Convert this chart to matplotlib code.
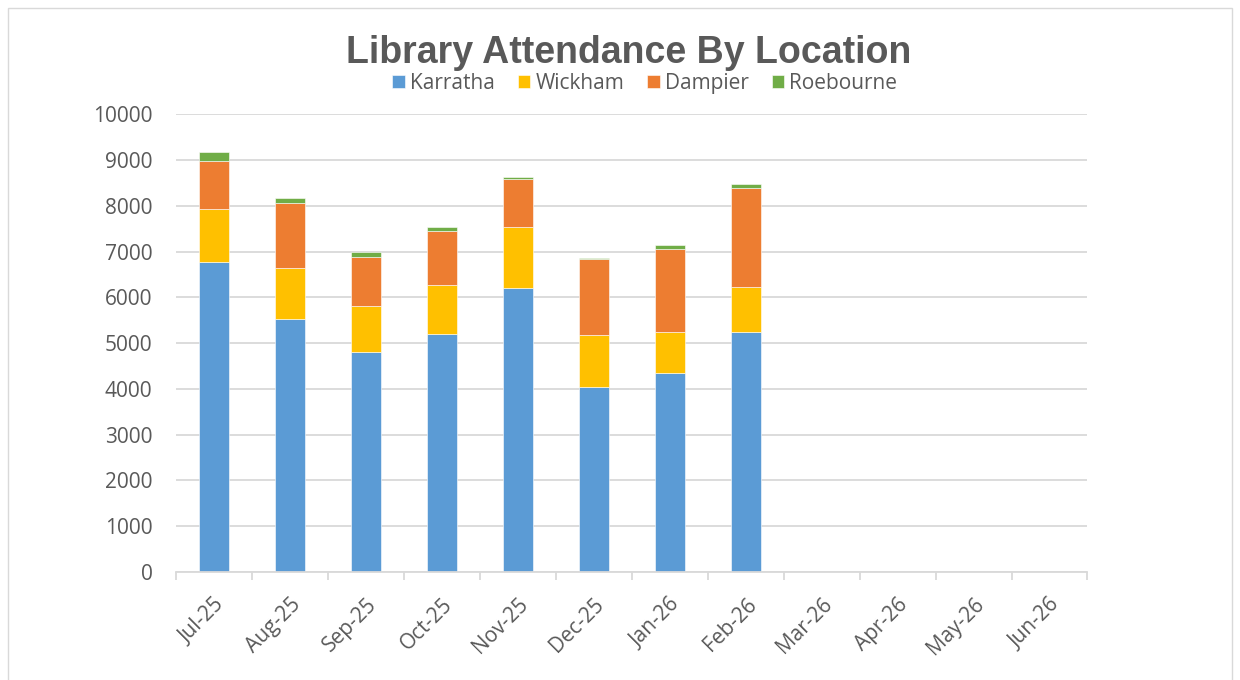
import matplotlib.pyplot as plt
import numpy as np
from matplotlib.patches import Rectangle

months = ["Jul-25", "Aug-25", "Sep-25", "Oct-25", "Nov-25", "Dec-25",
          "Jan-26", "Feb-26", "Mar-26", "Apr-26", "May-26", "Jun-26"]
karratha = [6766, 5532, 4797, 5190, 6206, 4036, 4342, 5234, 0, 0, 0, 0]
wickham = [1162, 1118, 1019, 1081, 1334, 1132, 892, 1000, 0, 0, 0, 0]
dampier = [1057, 1403, 1074, 1173, 1035, 1664, 1832, 2153, 0, 0, 0, 0]
roebourne = [197, 115, 110, 88, 44, 37, 87, 79, 0, 0, 0, 0]

series = [("Karratha", karratha, "#5b9bd5"),
          ("Wickham", wickham, "#ffc000"),
          ("Dampier", dampier, "#ed7d31"),
          ("Roebourne", roebourne, "#70ad47")]

plt.rcParams['font.family'] = ['Open Sans', 'DejaVu Sans']
text_col = "#595959"

fig = plt.figure(figsize=(12.4, 6.8), dpi=100)
ax = fig.add_axes([0.142, 0.159, 0.735, 0.673])

x = np.arange(len(months))
bottom = np.zeros(len(months))
for name, vals, col in series:
    vals = np.array(vals, dtype=float)
    ax.bar(x, vals, 0.4, bottom=bottom, color=col, label=name,
           edgecolor="white", linewidth=0.4, zorder=3)
    bottom += vals

ax.set_xlim(-0.5, len(months) - 0.5)
ax.set_ylim(0, 10000)
ax.set_yticks(np.arange(0, 10001, 1000))
ax.yaxis.grid(True, color="#d9d9d9", linewidth=1.3, zorder=0)
ax.set_axisbelow(True)
for s in ["top", "right", "left"]:
    ax.spines[s].set_visible(False)
ax.spines["bottom"].set_color("#d9d9d9")
ax.spines["bottom"].set_linewidth(1.3)
ax.spines["bottom"].set_zorder(4)

ax.tick_params(axis="y", length=0, labelsize=15, labelcolor=text_col, pad=17)
ax.set_xticks(x)
ax.set_xticklabels(months, rotation=45, ha="right", rotation_mode="anchor",
                   fontsize=15, color=text_col)
ax.tick_params(axis="x", which="major", length=0, pad=16)
ax.set_xticks(np.arange(-0.5, len(months)), minor=True)
ax.tick_params(axis="x", which="minor", length=6, color="#d9d9d9", width=1.3)

fig.text(0.507, 0.922, "Library Attendance By Location", ha="center", va="center",
         fontsize=27, fontweight="bold", color=text_col, family="Liberation Sans")
fig.legend(loc="center", bbox_to_anchor=(0.52, 0.877), ncol=4, frameon=False,
           fontsize=15, labelcolor=text_col, handlelength=0.6, handleheight=0.6,
           handletextpad=0.25, columnspacing=1.1)

fig.patches.append(Rectangle((8 / 1240, -0.1), 1224 / 1240, 1.1 - 8 / 680,
                             transform=fig.transFigure, fill=False,
                             edgecolor="#d9d9d9", linewidth=1))

fig.savefig("out.png", dpi=100)
